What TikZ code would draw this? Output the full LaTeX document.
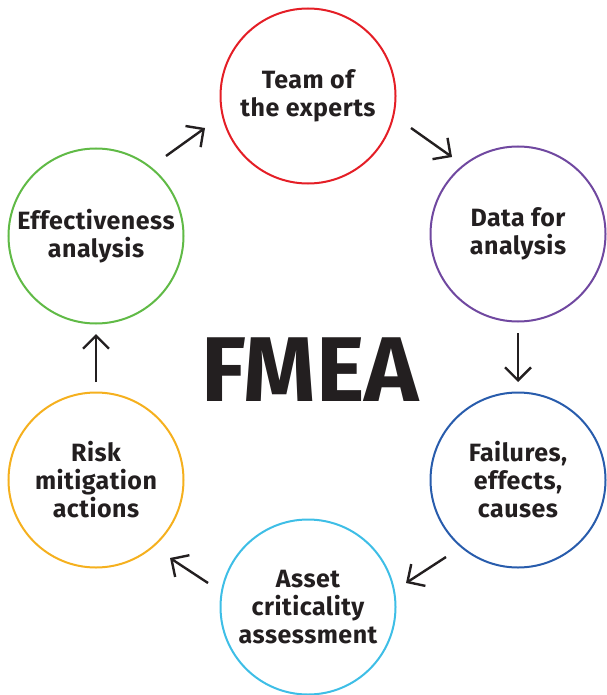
\documentclass[tikz,border=0pt]{standalone}
\usepackage{fontspec}
\setmainfont{Fira Sans}
\usetikzlibrary{arrows.meta}
\definecolor{ink}{RGB}{35,31,32}
\definecolor{cred}{RGB}{228,30,38}
\definecolor{cpurple}{RGB}{112,72,160}
\definecolor{cblue}{RGB}{40,92,172}
\definecolor{ccyan}{RGB}{62,190,230}
\definecolor{corange}{RGB}{245,176,30}
\definecolor{cgreen}{RGB}{96,186,70}
\begin{document}
\begin{tikzpicture}[x=1pt,y=-1pt]
        \tikzstyle{every node}=[text=ink,font=\fontsize{25}{28}\selectfont\bfseries\addfontfeatures{LetterSpace=2},align=center]
        \tikzstyle{stage}=[circle,draw,line width=2pt,minimum size=175pt,inner sep=0pt]
        \tikzstyle{flow}=[draw=ink,line width=2.4pt,-{Straight Barb[length=13pt,width=26pt,line width=2.4pt]}]
        \useasboundingbox (0,0) rectangle (606,695);
        % the six steps
        \node[stage,draw=cred] (team) at (308,96) {Team of\\the experts};
        \node[stage,draw=cpurple] (data) at (518,234) {Data for\\analysis};
        \node[stage,draw=cblue] (fail) at (518,480) {Failures,\\effects,\\causes};
        \node[stage,draw=ccyan] (asset) at (308,607) {Asset\\criticality\\assessment};
        \node[stage,draw=corange] (risk) at (96,480) {Risk\\mitigation\\actions};
        \node[stage,draw=cgreen] (eff) at (96,236) {Effectiveness\\analysis};
        \node[font=\fontsize{92}{92}\selectfont\bfseries] (fmea) at (310,370) {FMEA};
        % arrow ends
        \coordinate (e1) at (166,156); \coordinate (t1) at (205,128);
        \coordinate (e2) at (411,128); \coordinate (t2) at (452,157);
        \coordinate (e3) at (518,333); \coordinate (t3) at (518,382);
        \coordinate (e4) at (446,557); \coordinate (t4) at (406,583);
        \coordinate (e5) at (208,583); \coordinate (t5) at (170,558);
        \coordinate (e6) at (96,382); \coordinate (t6) at (96,334);
        \foreach \i in {1,...,6} \draw[flow] (e\i) -- (t\i);
    \end{tikzpicture}
\end{document}
